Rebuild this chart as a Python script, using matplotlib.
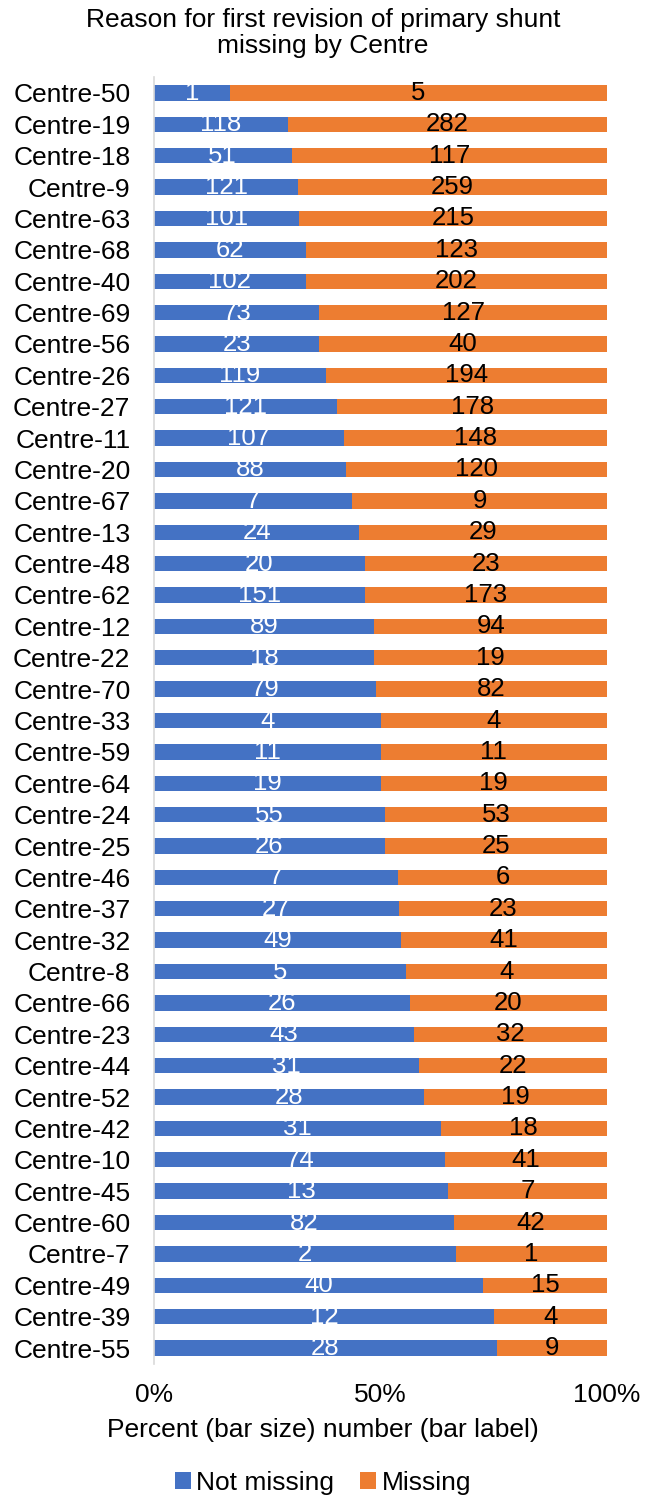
import matplotlib
matplotlib.use("Agg")
import matplotlib.pyplot as plt
import numpy as np

plt.rcParams['font.family'] = ['Liberation Sans', 'DejaVu Sans']

centres = ["Centre-50", "Centre-19", "Centre-18", "Centre-9", "Centre-63", "Centre-68",
           "Centre-40", "Centre-69", "Centre-56", "Centre-26", "Centre-27", "Centre-11",
           "Centre-20", "Centre-67", "Centre-13", "Centre-48", "Centre-62", "Centre-12",
           "Centre-22", "Centre-70", "Centre-33", "Centre-59", "Centre-64", "Centre-24",
           "Centre-25", "Centre-46", "Centre-37", "Centre-32", "Centre-8", "Centre-66",
           "Centre-23", "Centre-44", "Centre-52", "Centre-42", "Centre-10", "Centre-45",
           "Centre-60", "Centre-7", "Centre-49", "Centre-39", "Centre-55"]
not_missing = [1, 118, 51, 121, 101, 62, 102, 73, 23, 119, 121, 107, 88, 7, 24, 20, 151, 89,
               18, 79, 4, 11, 19, 55, 26, 7, 27, 49, 5, 26, 43, 31, 28, 31, 74, 13, 82, 2,
               40, 12, 28]
missing = [5, 282, 117, 259, 215, 123, 202, 127, 40, 194, 178, 148, 120, 9, 29, 23, 173, 94,
           19, 82, 4, 11, 19, 53, 25, 6, 23, 41, 4, 20, 32, 22, 19, 18, 41, 7, 42, 1,
           15, 4, 9]
xticks = [0, 50, 100]
xtick_labels = ["0%", "50%", "100%"]

nm = np.array(not_missing, dtype=float)
ms = np.array(missing, dtype=float)
tot = nm + ms
p_nm = nm / tot * 100
p_ms = ms / tot * 100
y = np.arange(len(centres))

W, H = 646, 1499
fig = plt.figure(figsize=(W / 100, H / 100), dpi=100)
left, right = 154 / W, 607 / W
top_px, bot_px = 77.3, 1363.7
ax = fig.add_axes([left, 1 - bot_px / H, right - left, (bot_px - top_px) / H])

blue = "#4472C4"
orange = "#ED7D31"
bh = 0.49
b1 = ax.barh(y, p_nm, height=bh, color=blue, label="Not missing")
b2 = ax.barh(y, p_ms, left=p_nm, height=bh, color=orange, label="Missing")

fs = 18.5
for i in range(len(y)):
    ax.text(p_nm[i] / 2, y[i], str(not_missing[i]), ha="center", va="center",
            color="white", fontsize=fs)
    ax.text(p_nm[i] + p_ms[i] / 2, y[i], str(missing[i]), ha="center", va="center",
            color="black", fontsize=fs)

ax.set_ylim(len(y) - 0.5, -0.5)
ax.set_xlim(0, 100)
ax.set_yticks(y)
ax.set_yticklabels(centres, fontsize=19)
ax.set_xticks(xticks)
ax.set_xticklabels(xtick_labels, fontsize=19)
ax.tick_params(axis="both", length=0)
ax.tick_params(axis="x", pad=14)
ax.tick_params(axis="y", pad=17)
for s in ["top", "right", "bottom"]:
    ax.spines[s].set_visible(False)
ax.spines["left"].set_color("#D9D9D9")
ax.spines["left"].set_linewidth(1.2)

ax.set_xlabel("Percent (bar size) number (bar label)", fontsize=19)
ax.xaxis.set_label_coords((323 - 154) / (607 - 154), -(1430 - 1363.7) / (1363.7 - 77.3))
ax.xaxis.label.set_va("center")

fig.text(0.5, 1 - 33 / H, "Reason for first revision of primary shunt\nmissing by Centre",
         ha="center", va="center", fontsize=19, linespacing=1.12)

fig.legend(handles=[b1, b2], loc="center", bbox_to_anchor=(0.5, 1 - 1483 / H),
           ncol=2, frameon=False, fontsize=19, handlelength=0.6, handleheight=0.6,
           handletextpad=0.2, columnspacing=1.0)

fig.savefig("out.png", dpi=100)
